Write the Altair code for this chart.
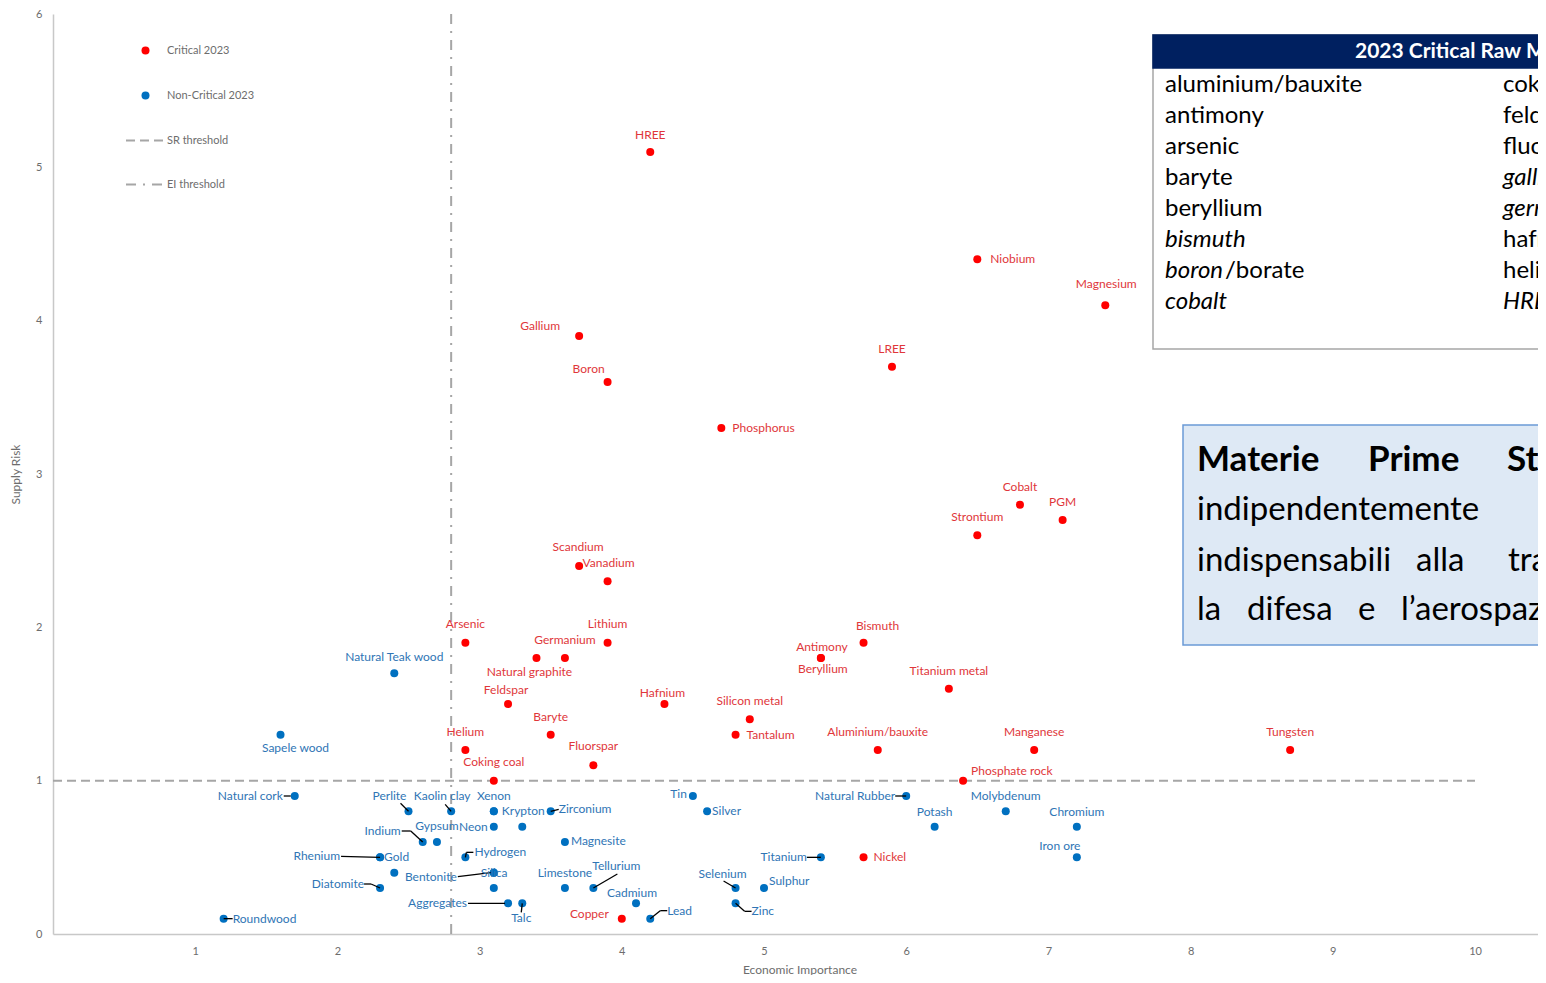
import altair as alt
import pandas as pd

FONT = "Lato"

# ---------------- data: Critical raw materials 2023 ----------------
crit_names = ["HREE", "Niobium", "Magnesium", "Gallium", "Boron", "LREE", "Phosphorus",
              "Cobalt", "PGM", "Strontium", "Scandium", "Vanadium", "Arsenic", "Lithium",
              "Germanium", "Natural graphite", "Bismuth", "Antimony", "Beryllium",
              "Titanium metal", "Feldspar", "Hafnium", "Silicon metal", "Tantalum", "Baryte",
              "Helium", "Aluminium/bauxite", "Manganese", "Tungsten", "Fluorspar",
              "Coking coal", "Phosphate rock", "Nickel", "Copper"]
crit_ei = [4.2, 6.5, 7.4, 3.7, 3.9, 5.9, 4.7, 6.8, 7.1, 6.5, 3.7, 3.9, 2.9, 3.9, 3.6, 3.4,
           5.7, 5.4, 5.4, 6.3, 3.2, 4.3, 4.9, 4.8, 3.5, 2.9, 5.8, 6.9, 8.7, 3.8, 3.1, 6.4,
           5.7, 4.0]
crit_sr = [5.1, 4.4, 4.1, 3.9, 3.6, 3.7, 3.3, 2.8, 2.7, 2.6, 2.4, 2.3, 1.9, 1.9, 1.8, 1.8,
           1.9, 1.8, 1.8, 1.6, 1.5, 1.5, 1.4, 1.3, 1.3, 1.2, 1.2, 1.2, 1.2, 1.1, 1.0, 1.0,
           0.5, 0.1]

# ---------------- data: Non-critical raw materials 2023 ----------------
nc_names = ["Natural Teak wood", "Sapele wood", "Natural cork", "Perlite", "Kaolin clay",
            "Xenon", "Krypton", "Zirconium", "Neon", "", "Gypsum", "Indium", "Magnesite",
            "Rhenium", "Gold", "", "Hydrogen", "Silica", "Bentonite", "", "Diatomite",
            "Aggregates", "Talc", "Roundwood", "Limestone", "Tellurium", "Cadmium", "Lead",
            "Tin", "Silver", "Titanium", "Selenium", "Sulphur", "Zinc", "Natural Rubber",
            "Potash", "Molybdenum", "Chromium", "Iron ore"]
nc_ei = [2.4, 1.6, 1.7, 2.5, 2.8, 3.1, 3.1, 3.5, 3.1, 3.3, 2.7, 2.6, 3.6, 2.3, 2.3, 2.4,
         2.9, 3.1, 3.1, 3.1, 2.3, 3.2, 3.3, 1.2, 3.6, 3.8, 4.1, 4.2, 4.5, 4.6, 5.4, 4.8,
         5.0, 4.8, 6.0, 6.2, 6.7, 7.2, 7.2]
nc_sr = [1.7, 1.3, 0.9, 0.8, 0.8, 0.8, 0.8, 0.8, 0.7, 0.7, 0.6, 0.6, 0.6, 0.5, 0.5, 0.4,
         0.5, 0.4, 0.4, 0.3, 0.3, 0.2, 0.2, 0.1, 0.3, 0.3, 0.2, 0.1, 0.9, 0.8, 0.5, 0.3,
         0.3, 0.2, 0.9, 0.7, 0.8, 0.7, 0.5]

SR_THRESHOLD = 1.0
EI_THRESHOLD = 2.8

table_col1 = ["aluminium/bauxite", "antimony", "arsenic", "baryte", "beryllium",
              "bismuth", "boron", "cobalt"]
table_col1_italic = [False, False, False, False, False, True, True, True]
table_col2 = ["coking coal", "feldspar", "fluorspar", "gallium", "germanium", "hafnium",
              "helium", "HREE"]
table_col2_italic = [False, False, False, True, True, False, False, True]
table_title = "2023 Critical Raw Materials"
box_line1 = ["Materie", "Prime", "Strategiche"]
box_line2 = ["indipendentemente"]
box_line3 = ["indispensabili", "alla", "transizione"]
box_line4 = ["la", "difesa", "e", "l’aerospazio"]

# ---------------- layout (pixels) ----------------
W, H = 1485, 920
XMAX, YMAX = W / 142.2, 6
PX, PY = W / XMAX, H / YMAX
OX, OY = 53, 934  # page position of the data origin


def px2x(px):
    return (px - OX) / PX


def py2y(py):
    return (OY - py) / PY


# label offsets in pixels: name -> (dx, dy, align)
label_pos = {
    "HREE": (0, -17, "center"), "Niobium": (13, 0, "left"), "Magnesium": (1, -21, "center"),
    "Gallium": (-39, -10, "center"), "Boron": (-19, -13, "center"), "LREE": (0, -18, "center"),
    "Phosphorus": (11, 0, "left"), "Cobalt": (0, -18, "center"), "PGM": (0, -18, "center"),
    "Strontium": (0, -18, "center"), "Scandium": (-1, -19, "center"),
    "Vanadium": (1, -18, "center"), "Arsenic": (0, -19, "center"), "Lithium": (0, -19, "center"),
    "Germanium": (0, -18, "center"), "Natural graphite": (-7, 14, "center"),
    "Bismuth": (14, -17, "center"), "Antimony": (1, -11, "center"),
    "Beryllium": (2, 11, "center"), "Titanium metal": (0, -18, "center"),
    "Feldspar": (-2, -14, "center"), "Hafnium": (-2, -11, "center"),
    "Silicon metal": (0, -18, "center"), "Tantalum": (11, 0, "left"),
    "Baryte": (0, -18, "center"), "Helium": (0, -18, "center"),
    "Aluminium/bauxite": (0, -18, "center"), "Manganese": (0, -18, "center"),
    "Tungsten": (0, -18, "center"), "Fluorspar": (0, -19, "center"),
    "Coking coal": (0, -19, "center"), "Phosphate rock": (8, -10, "left"),
    "Nickel": (10, 0, "left"), "Copper": (-13, -5, "right"),
    "Natural Teak wood": (0, -16, "center"), "Sapele wood": (15, 13, "center"),
    "Natural cork": (-12, 0, "right"), "Perlite": (-19, -15, "center"),
    "Kaolin clay": (-9, -15, "center"), "Xenon": (0, -15, "center"),
    "Krypton": (8, 0, "left"), "Zirconium": (8, -2, "left"), "Neon": (-6, 0, "right"),
    "Gypsum": (0, -16, "center"), "Indium": (-22, -11, "right"),
    "Magnesite": (6, -1, "left"), "Rhenium": (-40, -1, "right"), "Gold": (4, 0, "left"),
    "Hydrogen": (9, -5, "left"), "Silica": (-13, 0, "left"), "Bentonite": (-37, 4, "right"),
    "Diatomite": (-16, -4, "right"), "Aggregates": (-41, 0, "right"),
    "Talc": (-1, 15, "center"), "Roundwood": (9, 0, "left"), "Limestone": (0, -15, "center"),
    "Tellurium": (23, -22, "center"), "Cadmium": (-4, -10, "center"),
    "Lead": (17, -8, "left"), "Tin": (-6, -2, "right"), "Silver": (5, 0, "left"),
    "Titanium": (-14, 0, "right"), "Selenium": (-13, -14, "center"),
    "Sulphur": (5, -7, "left"), "Zinc": (16, 8, "left"), "Natural Rubber": (-11, 0, "right"),
    "Potash": (0, -15, "center"), "Molybdenum": (0, -15, "center"),
    "Chromium": (0, -15, "center"), "Iron ore": (-17, -11, "center"),
}

# leader polylines in pixel offsets from the dot
leaders = {
    "Natural cork": [(-11, 0), (-4, 0)], "Perlite": [(-8, -8), (0, 0)],
    "Kaolin clay": [(-6, -7), (0, 0)], "Zirconium": [(0, 0), (8, -2)],
    "Indium": [(-21, -11), (-12, -11), (0, 0)], "Rhenium": [(-39, -1), (0, 0)],
    "Hydrogen": [(0, 0), (1, -5), (8, -5)], "Bentonite": [(-36, 4), (-3, 0)],
    "Diatomite": [(-16, -4), (-9, -4), (0, 0)], "Aggregates": [(-40, 0), (-3, 0)],
    "Talc": [(0, 0), (-1, 9)], "Roundwood": [(0, 0), (9, 0)],
    "Tellurium": [(0, 0), (24, -14)], "Lead": [(0, 0), (10, -8), (17, -8)],
    "Titanium": [(-14, 0), (0, 0)], "Selenium": [(-12, -7), (0, 0)],
    "Zinc": [(0, 0), (9, 8), (16, 8)], "Natural Rubber": [(-11, 0), (0, 0)],
}

CRIT, NONCRIT = "Critical 2023", "Non-Critical 2023"
pts = pd.DataFrame({
    "name": crit_names + nc_names,
    "ei": crit_ei + nc_ei,
    "sr": crit_sr + nc_sr,
    "group": [CRIT] * len(crit_names) + [NONCRIT] * len(nc_names),
})

# label table
lab_rows = []
for r in pts.itertuples():
    if not r.name:
        continue
    dx, dy, al = label_pos[r.name]
    lab_rows.append({"name": r.name, "grp": r.group, "anchor": al,
                     "ei": r.ei + dx / PX, "sr": r.sr - dy / PY})
labs = pd.DataFrame(lab_rows)

# leader segments
seg_rows = []
for r in pts.itertuples():
    if r.name in leaders:
        p = leaders[r.name]
        for (a, b) in zip(p[:-1], p[1:]):
            seg_rows.append({"ei": r.ei + a[0] / PX, "sr": r.sr - a[1] / PY,
                             "ei2": r.ei + b[0] / PX, "sr2": r.sr - b[1] / PY})
segs = pd.DataFrame(seg_rows)

# ---------------- scales / axes ----------------
xs = alt.Scale(domain=[0, XMAX], nice=False, zero=False)
ys = alt.Scale(domain=[0, YMAX], nice=False, zero=False)
xaxis = alt.Axis(title="Economic Importance", values=list(range(1, 11)), labelPadding=11,
                 tickSize=0, ticks=False, grid=False, labelFlush=False, labelOverlap=False,
                 titleX=(1546 - 53) / 2, titleY=35, titleBaseline="middle")
yaxis = alt.Axis(title="Supply Risk", values=list(range(0, 7)), labelPadding=11,
                 tickSize=0, ticks=False, grid=False, labelFlush=False, labelOverlap=False,
                 titleX=-38, titleY=H / 2, titleBaseline="middle", titleAngle=-90,
                 titleAlign="center")


def X(f="ei"):
    return alt.X(f"{f}:Q", scale=xs, axis=xaxis)


def Y(f="sr"):
    return alt.Y(f"{f}:Q", scale=ys, axis=yaxis)


dash_scale = alt.Scale(domain=["SR threshold", "EI threshold"],
                       range=[[9, 5], [10, 7, 2, 7]])
dash_legend = alt.Legend(title=None, orient="none", legendX=72, legendY=107,
                         symbolType="stroke", symbolSize=1369, symbolStrokeWidth=2,
                         symbolStrokeColor="#a6a6a6", labelOffset=3, rowPadding=19,
                         padding=0, labelFont=FONT, labelFontSize=11,
                         labelColor="#6d6d6d")

sr_df = pd.DataFrame({"ei": [0.0], "ei2": [10.0], "sr": [SR_THRESHOLD], "t": ["SR threshold"]})
ei_df = pd.DataFrame({"ei": [EI_THRESHOLD], "sr": [0.0], "sr2": [6.0], "t": ["EI threshold"]})

sr_rule = alt.Chart(sr_df).mark_rule(color="#a6a6a6", strokeWidth=2).encode(
    x=X(), x2="ei2:Q", y=Y(),
    strokeDash=alt.StrokeDash("t:N", scale=dash_scale, legend=dash_legend))
ei_rule = alt.Chart(ei_df).mark_rule(color="#a6a6a6", strokeWidth=2).encode(
    x=X(), y=Y(), y2="sr2:Q",
    strokeDash=alt.StrokeDash("t:N", scale=dash_scale, legend=dash_legend))

color_legend = alt.Legend(title=None, orient="none", legendX=87, legendY=31,
                          symbolType="circle", symbolSize=64, symbolOpacity=1,
                          symbolStrokeWidth=0, labelOffset=16, rowPadding=33, padding=0,
                          labelFont=FONT, labelFontSize=11, labelColor="#6d6d6d")

points = alt.Chart(pts).mark_circle(size=64, opacity=1).encode(
    x=X(), y=Y(),
    color=alt.Color("group:N", scale=alt.Scale(domain=[CRIT, NONCRIT],
                                               range=["#ff0000", "#0070c0"]),
                    legend=color_legend))

leader_layer = alt.Chart(segs).mark_rule(color="#000000", strokeWidth=1.3).encode(
    x=X(), x2="ei2:Q", y=Y(), y2="sr2:Q")

label_layers = []
for grp, col in [(CRIT, "#e0363a"), (NONCRIT, "#2f75b5")]:
    for al in ["left", "center", "right"]:
        sub = labs[(labs["grp"] == grp) & (labs["anchor"] == al)]
        if len(sub) == 0:
            continue
        label_layers.append(
            alt.Chart(sub).mark_text(align=al, baseline="middle", font=FONT, fontSize=12,
                                     color=col).encode(x=X(), y=Y(), text="name:N"))

# ---------------- annotations: table and text box ----------------
rects = pd.DataFrame({
    "ei": [px2x(1153), px2x(1153), px2x(1183)],
    "ei2": [px2x(1620), px2x(1620), px2x(1620)],
    "sr": [py2y(35), py2y(35), py2y(425)],
    "sr2": [py2y(349), py2y(68), py2y(645)],
    "kind": ["table", "header", "box"],
})
rect_layers = []
for kind, fill, stroke in [("table", "#ffffff", "#a6a6a6"), ("header", "#002060", "#002060"),
                           ("box", "#dee9f5", "#6b9bd6")]:
    rect_layers.append(alt.Chart(rects[rects["kind"] == kind]).mark_rect(
        fill=fill, stroke=stroke, strokeWidth=1.5).encode(
        x=X(), x2="ei2:Q", y=Y(), y2="sr2:Q"))

row_py = [85, 116, 147, 178, 209, 240, 271, 302]
tab_rows = []
for i, (t, it) in enumerate(zip(table_col1, table_col1_italic)):
    tab_rows.append({"txt": t, "ei": px2x(1165), "sr": py2y(row_py[i]), "it": it})
tab_rows.append({"txt": "/borate", "ei": px2x(1225), "sr": py2y(row_py[6]), "it": False})
for i, (t, it) in enumerate(zip(table_col2, table_col2_italic)):
    tab_rows.append({"txt": t, "ei": px2x(1503), "sr": py2y(row_py[i]), "it": it})
tab = pd.DataFrame(tab_rows)

text_layers = []
for it in [False, True]:
    text_layers.append(alt.Chart(tab[tab["it"] == it]).mark_text(
        align="left", baseline="middle", font=FONT, fontSize=24, color="#000000",
        fontStyle="italic" if it else "normal").encode(x=X(), y=Y(), text="txt:N"))

hdr = pd.DataFrame({"txt": [table_title], "ei": [px2x(1355)], "sr": [py2y(52)]})
text_layers.append(alt.Chart(hdr).mark_text(
    align="left", baseline="middle", font=FONT, fontSize=21, fontWeight="bold",
    color="#ffffff").encode(x=X(), y=Y(), text="txt:N"))

# justified paragraph in the blue box: word start positions (page px)
bw = pd.DataFrame({"txt": box_line1, "ei": [px2x(1197), px2x(1368), px2x(1507)],
                   "sr": [py2y(460)] * 3})
text_layers.append(alt.Chart(bw).mark_text(
    align="left", baseline="middle", font=FONT, fontSize=35, fontWeight="bold",
    color="#000000").encode(x=X(), y=Y(), text="txt:N"))
bl = pd.DataFrame({
    "txt": box_line2 + box_line3 + box_line4,
    "ei": [px2x(v) for v in [1197, 1197, 1416, 1508, 1197, 1247, 1358, 1401]],
    "sr": [py2y(v) for v in [510, 561, 561, 561, 610, 610, 610, 610]],
})
text_layers.append(alt.Chart(bl).mark_text(
    align="left", baseline="middle", font=FONT, fontSize=33,
    color="#000000").encode(x=X(), y=Y(), text="txt:N"))

chart = alt.layer(
    sr_rule, ei_rule, points, leader_layer, *label_layers, *rect_layers, *text_layers
).properties(
    width=W, height=H,
    autosize=alt.AutoSizeParams(type="none"),
    padding={"left": 45, "top": 6, "right": 0, "bottom": 41},
).configure_view(stroke=None).configure_axis(
    domainColor="#c8c8c8", domainWidth=1.5, labelFont=FONT, labelFontSize=11,
    labelColor="#6d6d6d", titleFont=FONT, titleFontSize=12, titleFontWeight="normal",
    titleColor="#6d6d6d",
)

chart.save("out.html", embed_options={"renderer": "svg", "actions": False})
